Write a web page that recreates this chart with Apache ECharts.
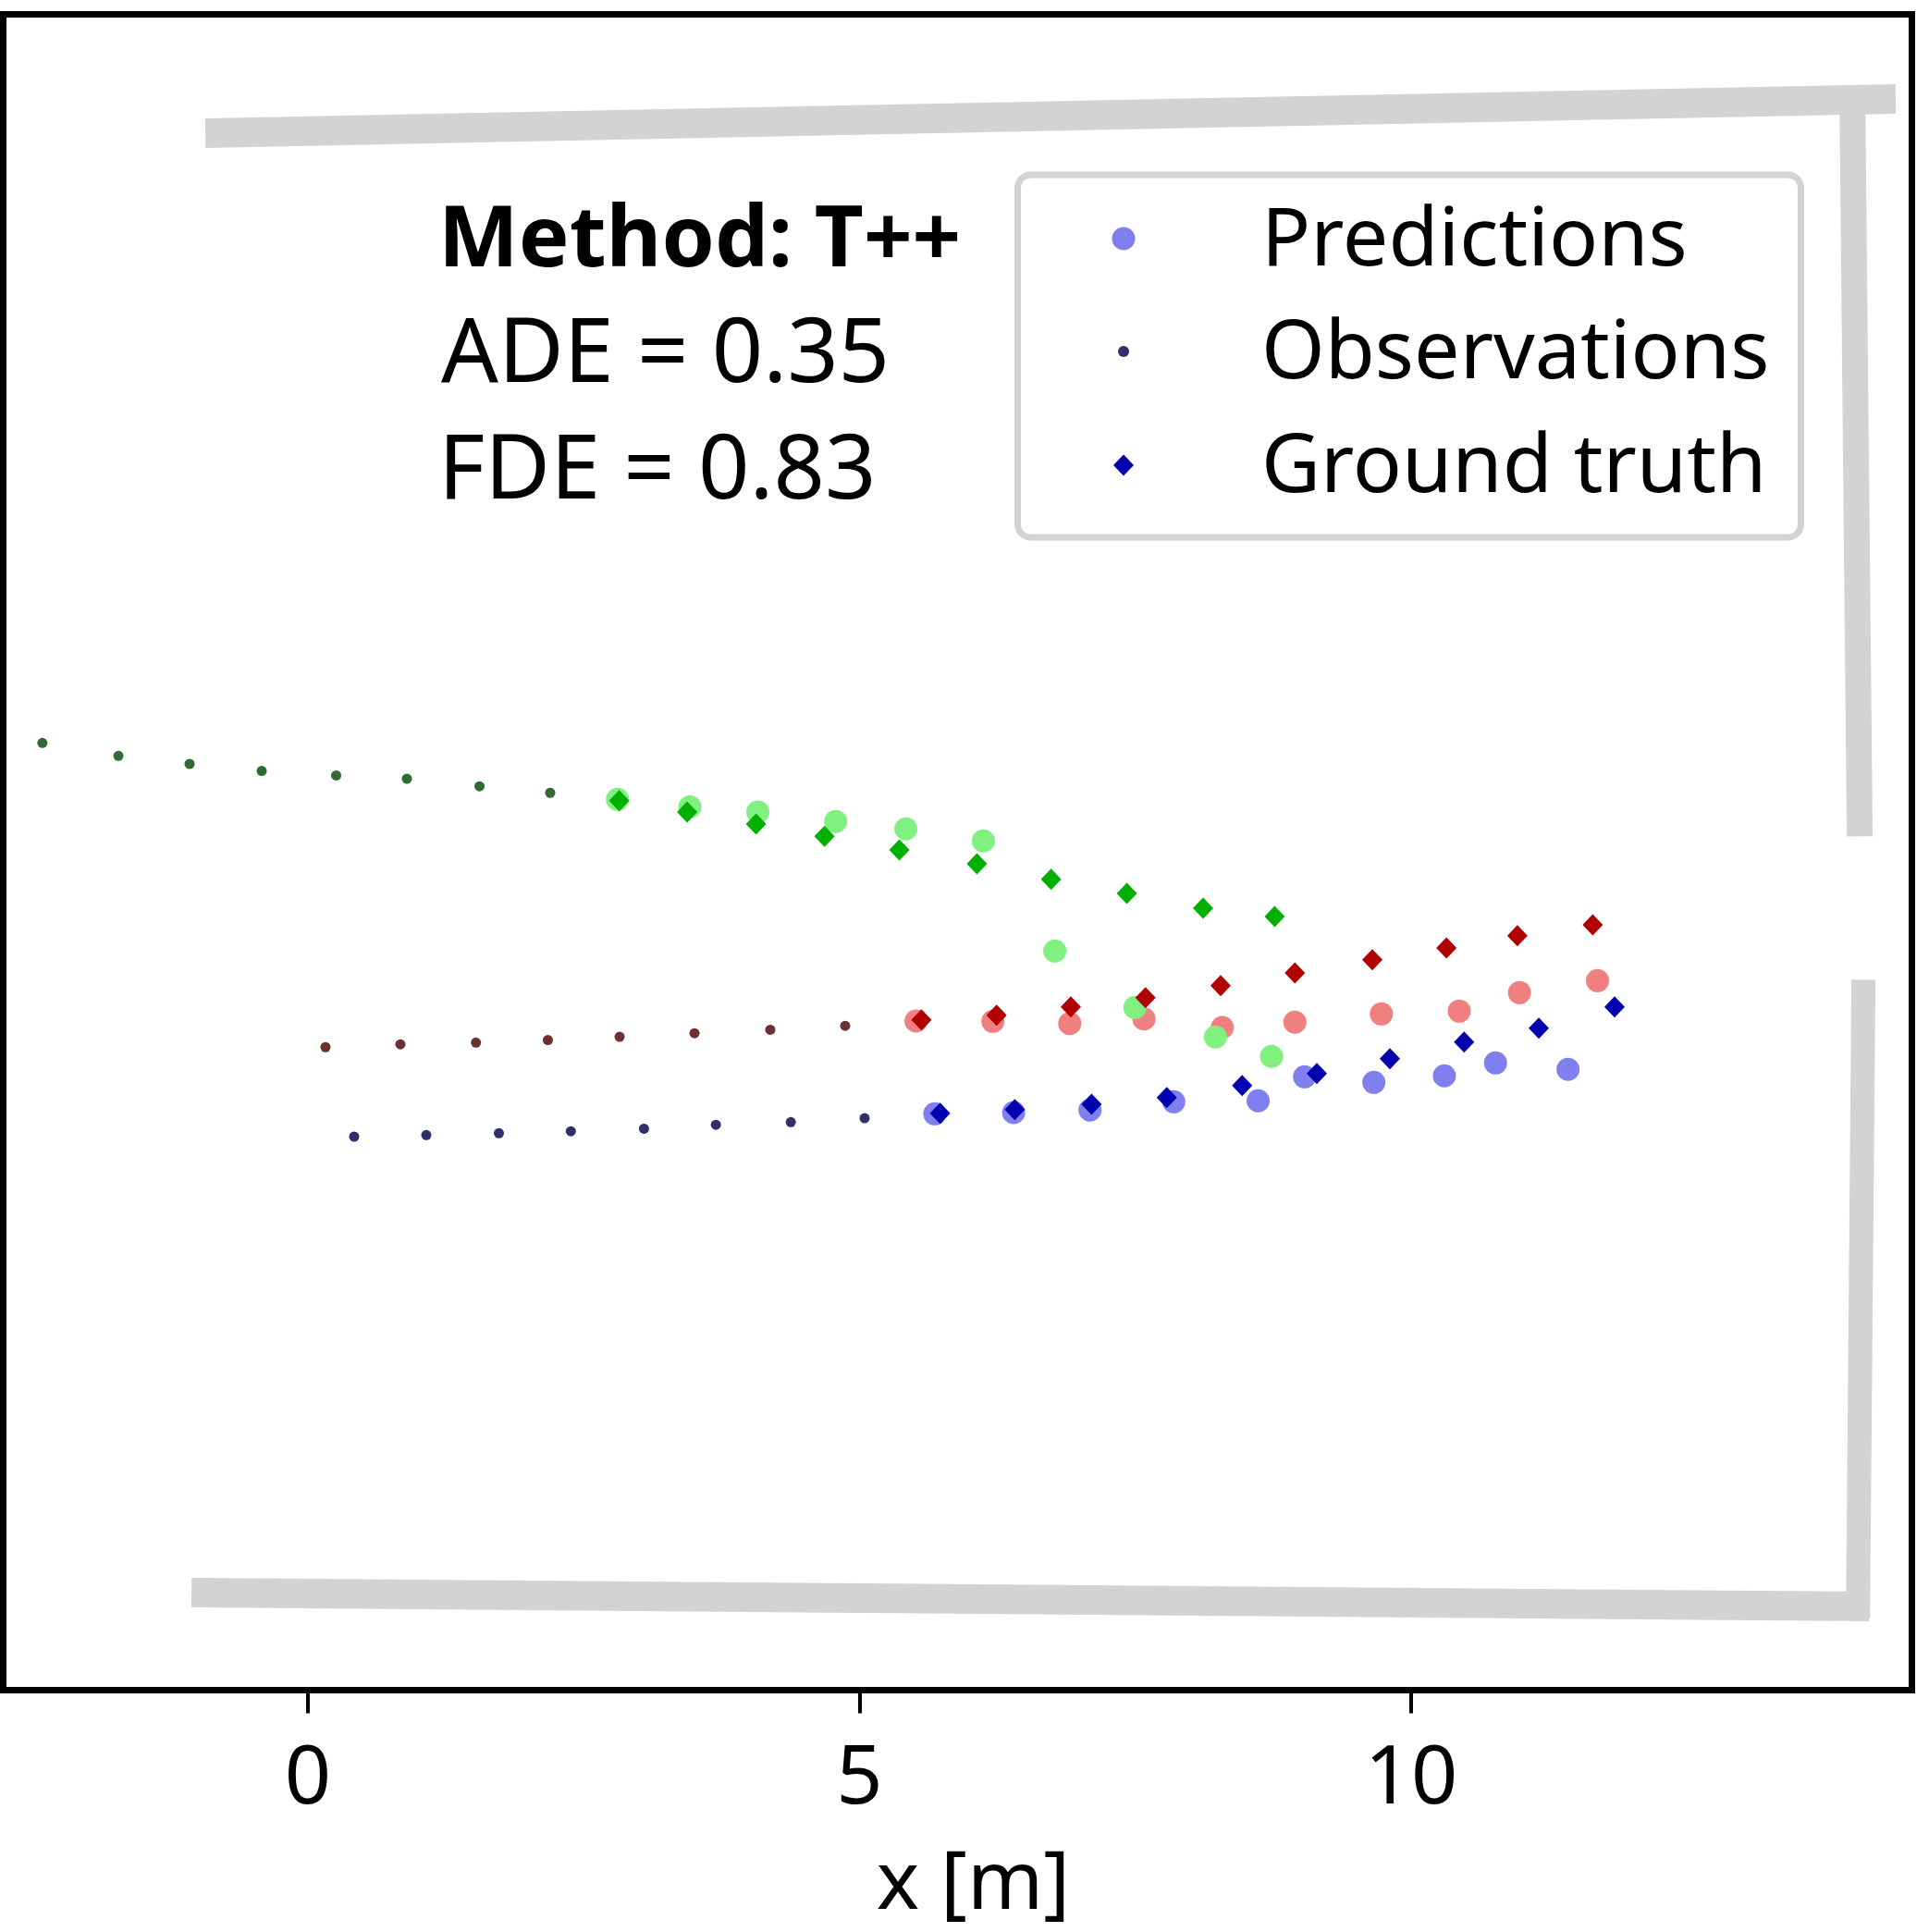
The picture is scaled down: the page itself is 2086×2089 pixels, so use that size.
<!DOCTYPE html>
<html><head><meta charset="utf-8">
<script src="https://cdn.jsdelivr.net/npm/echarts@6/dist/echarts.min.js"></script>
<style>html,body{margin:0;padding:0;background:#fff}#c{width:2086px;height:2089px}</style>
</head><body><div id="c"></div>
<script>
// tick labels
const xTicks = [0, 5, 10];
const yTicks = [-6, -4, -2, 0, 2, 4, 6];
const legendNames = ['Predictions', 'Observations', 'Ground truth'];
const textLines = ['Method: T++', 'ADE = 0.35', 'FDE = 0.83'];

// agent 1 (blue)
const obsBlue = [[0.419,-2.431],[1.073,-2.417],[1.731,-2.400],[2.383,-2.382],[3.046,-2.359],[3.698,-2.324],[4.377,-2.300],[5.046,-2.264]];
const gtBlue = [[5.730,-2.219],[6.407,-2.185],[7.103,-2.137],[7.785,-2.076],[8.468,-1.967],[9.145,-1.858],[9.807,-1.724],[10.480,-1.573],[11.157,-1.448],[11.844,-1.255]];
const predBlue = [[5.682,-2.224],[6.397,-2.213],[7.089,-2.190],[7.848,-2.115],[8.613,-2.106],[9.034,-1.889],[9.662,-1.939],[10.301,-1.880],[10.765,-1.763],[11.422,-1.821]];
// agent 2 (red)
const obsRed = [[0.159,-1.620],[0.838,-1.594],[1.523,-1.579],[2.175,-1.556],[2.825,-1.526],[3.504,-1.494],[4.191,-1.462],[4.870,-1.427]];
const gtRed = [[5.561,-1.372],[6.242,-1.330],[6.915,-1.255],[7.592,-1.171],[8.273,-1.062],[8.946,-0.947],[9.648,-0.827],[10.320,-0.721],[10.963,-0.609],[11.646,-0.511]];
const predRed = [[5.512,-1.383],[6.209,-1.386],[6.905,-1.406],[7.578,-1.364],[8.288,-1.442],[8.946,-1.394],[9.730,-1.319],[10.436,-1.294],[10.982,-1.126],[11.689,-1.017]];
// agent 3 (green)
const obsGreen = [[-2.407,1.137],[-1.718,1.020],[-1.073,0.947],[-0.419,0.884],[0.256,0.843],[0.897,0.813],[1.555,0.744],[2.196,0.685]];
const gtGreen = [[2.821,0.614],[3.437,0.511],[4.062,0.402],[4.682,0.291],[5.361,0.168],[6.064,0.042],[6.736,-0.098],[7.423,-0.226],[8.114,-0.360],[8.763,-0.436]];
const predGreen = [[2.806,0.626],[3.462,0.558],[4.078,0.511],[4.784,0.426],[5.420,0.358],[6.122,0.249],[6.770,-0.749],[7.496,-1.260],[8.226,-1.528],[8.734,-1.704]];

// scene walls
const wallTop = [[-0.93,6.664],[14.392,6.974]];
const wallRightUpper = [[14.00,6.95],[14.066,0.29]];
const wallRightLower = [[14.10,-1.01],[14.05,-6.80]];
const wallBottom = [[-1.056,-6.563],[14.15,-6.689]];

const FONT = 'Noto Sans';
const chart = echarts.init(document.getElementById('c'), null, {renderer: 'canvas'});

function wall(name, data, w) {
  return {name, type: 'line', data, symbol: 'none', silent: true, z: 1,
    lineStyle: {color: '#d3d3d3', width: w, cap: 'butt'}};
}
function dots(name, data, color, symbol, size) {
  return {name, type: 'scatter', data, symbol, symbolSize: size, silent: true,
    itemStyle: {color, opacity: 1}};
}

const legendColors = ['#7f7ff0', '#30306b', '#0000b0'];
const legendRows = [258, 380, 503];
const legendGraphics = [
  {type: 'rect', z: 3, shape: {x: 1100.5, y: 189, width: 847, height: 392, r: 14},
    style: {fill: '#fff', stroke: '#d3d3d3', lineWidth: 7}},
  {type: 'circle', z: 5, shape: {cx: 1215, cy: legendRows[0], r: 12.5}, style: {fill: legendColors[0]}},
  {type: 'circle', z: 5, shape: {cx: 1215, cy: legendRows[1], r: 6}, style: {fill: legendColors[1]}},
  {type: 'polygon', z: 5, shape: {points: [[1215, legendRows[2] - 11.5], [1226, legendRows[2]], [1215, legendRows[2] + 11.5], [1204, legendRows[2]]]}, style: {fill: legendColors[2]}}
].concat(legendNames.map((n, i) => ({
  type: 'text', z: 5, x: 1364, y: legendRows[i] + 4,
  style: {text: n, fontFamily: FONT, fontSize: 88, fill: '#000', verticalAlign: 'middle'}
})));

chart.setOption({
  animation: false,
  backgroundColor: '#fff',
  grid: {left: 3.5, top: 15.5, right: 18.5, bottom: 261.5, show: true, borderColor: '#000', borderWidth: 7, backgroundColor: '#fff'},
  xAxis: {
    type: 'value', min: -2.762, max: 14.539, position: 'bottom',
    axisLine: {show: false, onZero: false}, splitLine: {show: false},
    axisTick: {show: true, length: 25, customValues: xTicks, lineStyle: {color: '#000', width: 4}},
    axisLabel: {customValues: xTicks, margin: 53, fontFamily: FONT, fontSize: 88, color: '#000', lineHeight: 88},
    name: 'x [m]', nameLocation: 'middle', nameGap: 167,
    nameTextStyle: {fontFamily: FONT, fontSize: 88, color: '#000', lineHeight: 88, padding: [0, 0, 0, 34]}
  },
  yAxis: {
    type: 'value', min: -7.448, max: 7.741, position: 'left',
    axisLine: {show: false, onZero: false}, splitLine: {show: false},
    axisTick: {show: true, length: 14, customValues: yTicks, lineStyle: {color: '#000', width: 4}},
    axisLabel: {show: false, customValues: yTicks}
  },
  graphic: legendGraphics.concat([
    {type: 'text', z: 5, x: 474, y: 262, style: {text: textLines[0], fontFamily: FONT, fontWeight: 'bold', fontSize: 92, fill: '#000', verticalAlign: 'middle'}},
    {type: 'text', z: 5, x: 477, y: 385, style: {text: textLines[1], fontFamily: FONT, fontSize: 97, fill: '#000', verticalAlign: 'middle'}},
    {type: 'text', z: 5, x: 474, y: 511, style: {text: textLines[2], fontFamily: FONT, fontSize: 97, fill: '#000', verticalAlign: 'middle'}}
  ]),
  series: [
    wall('wallTop', wallTop, 32),
    wall('wallRightUpper', wallRightUpper, 28),
    wall('wallRightLower', wallRightLower, 26),
    wall('wallBottom', wallBottom, 32),
    dots('Observations', obsBlue, '#30306b', 'circle', 11),
    dots('obsRed', obsRed, '#6b3030', 'circle', 11),
    dots('obsGreen', obsGreen, '#2f6b33', 'circle', 11),
    dots('Predictions', predBlue, '#7f7ff0', 'circle', 25),
    dots('predRed', predRed, '#f08080', 'circle', 25),
    dots('predGreen', predGreen, '#80f080', 'circle', 25),
    dots('Ground truth', gtBlue, '#0000b0', 'diamond', [22, 23]),
    dots('gtRed', gtRed, '#b00000', 'diamond', [22, 23]),
    dots('gtGreen', gtGreen, '#00b000', 'diamond', [22, 23])
  ]
});
</script></body></html>
